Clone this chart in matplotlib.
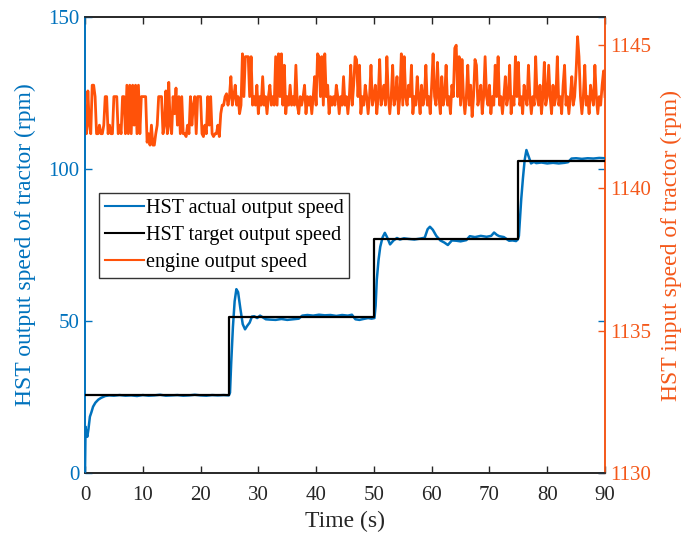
import numpy as np
import matplotlib
matplotlib.use("Agg")
import matplotlib.pyplot as plt
from matplotlib.lines import Line2D

plt.rcParams['font.family'] = ['Liberation Serif', 'DejaVu Serif']
plt.rcParams['mathtext.fontset'] = 'stix'

# --- colours ---
c_blue = '#0072BD'
c_orange = '#F4581A'
c_engine = '#FF5209'
c_dark = '#262626'

# --- HST actual output speed (rpm) ---
act_t = [0, 0.1, 0.2, 0.4, 0.6, 0.85, 1.1, 1.4, 1.8, 2.3, 2.8, 3.5, 4.2,
         5, 6, 7, 8, 9, 10, 11, 12, 13, 14, 15, 16, 17, 18, 19, 20, 21, 22, 23, 24, 24.9,
         25.1, 25.3, 25.6, 25.9, 26.2, 26.5, 26.9, 27.3, 27.7, 28.1, 28.5, 28.9, 29.3, 29.8,
         30.3, 30.8, 31.3, 32, 33, 34, 35, 36, 37, 37.6, 38.5, 39.5, 40.5, 41.5, 42.5, 43.5,
         44.5, 45.5, 46.2, 46.8, 47.5, 48.2, 49, 49.6, 50.1,
         50.3, 50.5, 50.8, 51.1, 51.5, 51.9, 52.3, 52.8, 53.4, 54, 54.5, 55.2, 56, 57, 58,
         58.8, 59.3, 59.7, 60.2, 60.8, 61.5, 62.2, 62.8, 63.5, 64.3, 65, 66, 66.6, 67.5, 68.5,
         69.5, 70.3, 70.8, 71.3, 71.7, 72.5, 73.4, 74, 74.6, 74.9,
         75.1, 75.3, 75.5, 75.8, 76.1, 76.4, 76.8, 77.2, 77.7, 78.1, 79, 80, 81, 82, 83,
         83.6, 84.2, 85, 86, 87, 88, 89, 90]
act_v = [0, 15.3, 13.5, 12.0, 14.5, 18.6, 20.0, 21.9, 23.2, 24.2, 24.8, 25.4, 25.6,
         25.5, 25.7, 25.5, 25.6, 25.4, 25.7, 25.5, 25.6, 25.8, 25.5, 25.6, 25.7, 25.5, 25.6,
         25.8, 25.6, 25.5, 25.7, 25.6, 25.7, 25.6,
         26.5, 36, 48, 56.5, 60.5, 59.5, 54, 49, 47.3, 48.5, 49.5, 51.5, 51.6, 51.0,
         51.8, 51.2, 50.6, 50.5, 50.4, 50.7, 50.4, 50.6, 50.8, 51.8, 52.0, 51.8, 52.1, 51.9,
         52.0, 51.7, 52.0, 51.8, 52.1, 50.6, 50.4, 50.7, 51.0, 50.8, 51.0,
         55, 63.5, 70, 74.4, 77.5, 79.0, 77.5, 75.2, 76.5, 77.3, 76.8, 77.2, 77.0, 76.8, 77.1,
         77.4, 80.2, 81.0, 80.0, 78.0, 76.5, 75.8, 75.0, 76.5, 76.4, 76.2, 76.6, 77.9, 77.6,
         78.0, 77.7, 78.0, 79.1, 78.3, 77.9, 77.6, 76.4, 76.5, 76.3, 76.8,
         78, 84, 90, 97, 103, 106.2, 104, 101.8, 102.3, 101.9, 102.1, 101.8, 102.0, 101.8,
         102.0, 102.2, 103.4, 103.5, 103.3, 103.5, 103.4, 103.6, 103.5]

# --- HST target output speed (rpm) ---
tgt_t = [0, 25, 50, 75, 90]
tgt_v = [25.6, 51.2, 77.0, 102.7, 102.7]

# --- engine output speed (rpm), one reading every 0.25 s ---
eng_v = [
    1142.2, 1141.9, 1143.4, 1142.2,  1141.9, 1143.6, 1143.6, 1143.2,
    1141.9, 1141.9, 1142.2, 1141.9,  1141.9, 1142.2, 1143.2, 1143.2,
    1141.9, 1142.2, 1141.9, 1141.9,  1143.2, 1143.2, 1143.2, 1141.9,
    1142.2, 1141.9, 1143.2, 1143.2,  1141.9, 1143.6, 1141.9, 1143.6,
    1141.9, 1143.6, 1142.2, 1143.6,  1141.9, 1143.6, 1141.9, 1143.2,
    1143.2, 1143.2, 1143.2, 1141.6,  1141.9, 1141.5, 1142.2, 1141.5,
    1141.5, 1141.9, 1142.2, 1143.2,  1143.2, 1143.2, 1141.9, 1142.2,
    1143.4, 1141.9, 1143.7, 1142.2,  1141.9, 1143.2, 1142.6, 1143.5,
    1142.2, 1143.2, 1141.9, 1143.2,  1141.9, 1141.9, 1141.8, 1142.2,
    1141.9, 1143.2, 1142.2, 1142.9,  1143.2, 1141.9, 1143.2, 1143.2,
    1143.2, 1141.9, 1141.8, 1142.2,  1141.9, 1143.2, 1142.2, 1143.2,
    1141.9, 1141.8, 1141.9, 1141.9,  1142.2, 1141.8, 1142.6, 1142.9,
    1142.9, 1143.2, 1143.3, 1142.9,
    1143.2, 1143.9, 1142.9, 1143.2,  1143.6, 1142.9, 1143.2, 1142.6,
    1142.9, 1144.7, 1143.2, 1144.6,  1144.6, 1144.6, 1143.2, 1144.6,
    1142.9, 1143.2, 1142.9, 1143.6,  1142.6, 1143.2, 1142.9, 1143.9,
    1142.9, 1143.2, 1142.6, 1143.2,  1143.6, 1142.9, 1143.2, 1142.9,
    1144.6, 1142.9, 1144.7, 1143.2,  1144.7, 1142.9, 1144.3, 1142.6,
    1143.2, 1142.9, 1143.6, 1142.9,  1143.2, 1142.9, 1144.3, 1142.9,
    1142.6, 1143.2, 1142.9, 1143.2,  1143.6, 1142.6, 1143.2, 1142.9,
    1143.2, 1142.6, 1143.2, 1143.9,  1142.9, 1144.7, 1144.6, 1143.2,
    1144.6, 1142.9, 1144.7, 1143.2,  1143.6, 1142.6, 1143.2, 1142.9,
    1143.2, 1142.9, 1143.6, 1143.2,  1142.6, 1143.2, 1142.9, 1143.9,
    1142.9, 1143.2, 1142.6, 1143.2,  1144.3, 1142.9, 1143.6, 1144.6,
    1144.5, 1143.2, 1144.3, 1142.6,  1143.2, 1142.9, 1143.6, 1143.2,
    1142.6, 1143.2, 1144.3, 1142.9,  1143.2, 1143.6, 1142.6, 1143.2,
    1144.5, 1142.9, 1143.2, 1143.6,  1142.9, 1144.6, 1143.2, 1142.6,
    1143.2, 1144.3, 1142.9, 1143.2,  1143.9, 1142.6, 1143.2, 1144.7,
    1142.9, 1144.6, 1143.2, 1142.9,  1143.6, 1143.2, 1144.3, 1142.6,
    1143.2, 1142.9, 1143.9, 1143.2,  1142.6, 1143.6, 1142.9, 1143.2,
    1144.3, 1142.9, 1143.2, 1142.6,  1143.6, 1144.7, 1143.2, 1142.9,
    1144.4, 1143.2, 1142.6, 1143.9,  1142.9, 1143.2, 1144.3, 1142.9,
    1143.2, 1142.6, 1143.6, 1143.2,  1144.9, 1145.0, 1143.2, 1144.6,
    1142.9, 1144.5, 1143.2, 1142.6,  1143.2, 1144.3, 1142.9, 1143.6,
    1142.5, 1143.2, 1144.5, 1144.3,  1142.9, 1143.2, 1143.6, 1142.6,
    1143.2, 1144.6, 1143.2, 1142.9,  1143.6, 1142.6, 1143.2, 1142.9,
    1144.3, 1143.2, 1144.6, 1142.9,  1143.2, 1142.6, 1143.2, 1143.9,
    1142.9, 1143.2, 1144.3, 1142.6,  1143.2, 1142.9, 1144.6, 1143.2,
    1144.4, 1142.9, 1143.2, 1142.6,  1143.6, 1143.2, 1142.9, 1144.3,
    1143.2, 1142.6, 1143.2, 1142.9,  1144.6, 1143.2, 1142.9, 1143.6,
    1142.6, 1143.2, 1144.4, 1142.9,  1143.2, 1144.3, 1143.2, 1142.6,
    1143.6, 1142.9, 1143.2, 1144.6,  1142.9, 1143.2, 1142.6, 1143.6,
    1144.3, 1142.9, 1143.2, 1142.6,  1143.2, 1143.9, 1142.9, 1143.2,
    1144.1, 1145.3, 1144.6, 1143.2,  1142.6, 1143.2, 1144.3, 1142.9,
    1143.2, 1142.6, 1143.6, 1143.2,  1142.9, 1144.3, 1143.2, 1142.6,
    1143.2, 1142.9, 1143.6, 1144.1,
    1143.2]
eng_t = np.arange(len(eng_v)) * 0.25

# --- plotting ---
fig = plt.figure(figsize=(6.81, 5.37), dpi=100)
ax1 = fig.add_axes([0.1248, 0.1186, 0.7636, 0.8503])
ax2 = ax1.twinx()

ax2.plot(eng_t, eng_v, color=c_engine, lw=2.0, zorder=2)
ax1.plot(act_t, act_v, color=c_blue, lw=1.8, zorder=3)
ax1.step(tgt_t, tgt_v, where='post', color='black', lw=1.6, zorder=4)

ax1.set_zorder(ax2.get_zorder() + 1)
ax1.patch.set_visible(False)

ax1.set_xlim(0, 90)
ax1.set_ylim(0, 150)
ax2.set_ylim(1130, 1146)
ax1.set_xticks(np.arange(0, 91, 10))
ax1.set_yticks([0, 50, 100, 150])
ax2.set_yticks([1130, 1135, 1140, 1145])

ax1.tick_params(axis='x', direction='in', top=True, length=5, width=1,
                colors=c_dark, labelsize=15, pad=9)
ax1.tick_params(axis='y', direction='in', right=True, length=5, width=1,
                colors=c_blue, labelsize=15, pad=4)
ax2.tick_params(axis='y', direction='in', length=5, width=1,
                colors=c_orange, labelsize=15, pad=4)

for ax in (ax1, ax2):
    ax.spines['top'].set_color(c_dark)
    ax.spines['bottom'].set_color(c_dark)
    ax.spines['left'].set_color(c_blue)
    ax.spines['right'].set_color(c_orange)
    for s in ax.spines.values():
        s.set_linewidth(1.2)

ax1.set_xlabel('Time (s)', fontsize=17, color=c_dark)
ax1.set_ylabel('HST output speed of tractor (rpm)', fontsize=17, color=c_blue)
ax2.set_ylabel('HST input speed of tractor (rpm)', fontsize=17, color=c_orange)
ax1.xaxis.set_label_coords(0.5, -0.082)
ax1.yaxis.set_label_coords(-0.094, 0.5)
ax2.yaxis.set_label_coords(1.108, 0.5)

handles = [Line2D([], [], color=c_blue, lw=1.5),
           Line2D([], [], color='black', lw=1.5),
           Line2D([], [], color=c_engine, lw=1.5)]
labels = ['HST actual output speed', 'HST target output speed', 'engine output speed']
leg = ax1.legend(handles, labels, loc='upper left', bbox_to_anchor=(0.0275, 0.6145),
                 borderaxespad=0, fontsize=14.5, frameon=True, fancybox=False,
                 edgecolor='black', handlelength=1.9, handletextpad=0.1,
                 labelspacing=0.4, borderpad=0.3)
leg.get_frame().set_linewidth(1.0)

fig.savefig('out.png', dpi=100)
